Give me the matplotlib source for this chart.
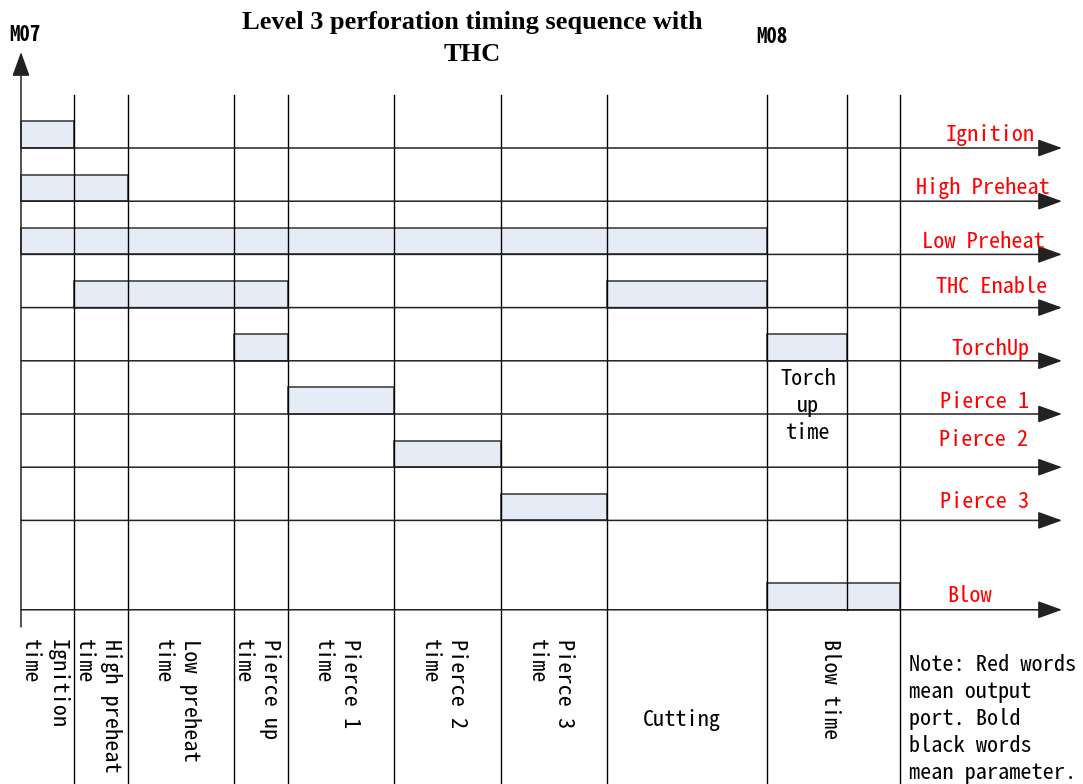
import matplotlib.pyplot as plt
from matplotlib.patches import Rectangle

# phase boundaries on the time axis (1 unit = one short phase)
edges = [0, 1, 2, 4, 5, 7, 9, 11, 14, 15.5, 16.5]

# output ports, top to bottom
signals = ["Ignition", "High Preheat", "Low Preheat", "THC Enable", "TorchUp",
           "Pierce 1", "Pierce 2", "Pierce 3", "Blow"]
# spans where each port is on, as (start edge, end edge) indices
on_spans = [
    [(0, 1)],
    [(0, 2)],
    [(0, 8)],
    [(1, 4), (7, 8)],
    [(3, 4), (8, 9)],
    [(4, 5)],
    [(5, 6)],
    [(6, 7)],
    [(8, 10)],
]

# parameters written under the time axis, with their edge spans
phase_labels = ["Ignition\ntime", "High preheat\ntime", "Low preheat\ntime",
                "Pierce up\ntime", "Pierce 1\ntime", "Pierce 2\ntime",
                "Pierce 3\ntime", "Cutting", "Blow time"]
phase_spans = [(0, 1), (1, 2), (2, 3), (3, 4), (4, 5), (5, 6), (6, 7), (7, 8), (8, 10)]
vertical_phase = [True, True, True, True, True, True, True, False, True]

title = "Level 3 perforation timing sequence with\nTHC"
note = "Note: Red words\nmean output\nport. Bold\nblack words\nmean parameter."

# layout (pixels of the 1083x784 picture)
W, H = 1083, 784
X0, XUNIT = 21, 53.3        # pixel of t=0 and pixels per time unit
Y0, YUNIT = 148, 53.2       # pixel of first baseline and pixels per row
row_y = [0, 1, 2, 3, 4, 5, 6, 7, 8.68]
label_px = [(990, 135), (983, 188), (983, 242), (992, 287), (990, 349),
            (985, 402), (984, 440), (985, 502), (970, 596)]

MONO = ["Noto Sans Mono CJK SC", "Liberation Mono"]
FS = 16


def tx(px):
    return (px - X0) / XUNIT


def ry(py):
    return (py - Y0) / YUNIT


fig = plt.figure(figsize=(W / 100, H / 100), dpi=100)
ax = fig.add_axes([0, 0, 1, 1])
ax.set_xlim(tx(0), tx(W))
ax.set_ylim(ry(H), ry(0))
ax.axis("off")

head = dict(arrowstyle="-|>,head_length=0.75,head_width=0.27", mutation_scale=20,
            color="#222222", lw=1.1, shrinkA=0, shrinkB=0)

# on boxes
for row, spans in zip(row_y, on_spans):
    for a, b in spans:
        ax.add_patch(Rectangle((edges[a], row - 0.5), edges[b] - edges[a], 0.5,
                               facecolor="#E5ECF6", edgecolor="#333333", lw=1.1, zorder=1))

# baselines with arrows
for row in row_y:
    ax.annotate("", xy=(tx(1062), row), xytext=(0, row), arrowprops=head, zorder=3)

# phase boundaries
for i, t in enumerate(edges[1:], start=1):
    bottom = row_y[-1] if i == 9 else ry(H)
    ax.plot([t, t], [ry(95), bottom], color="black", lw=1.0, zorder=2)

# time axis
ax.annotate("", xy=(0, ry(52)), xytext=(0, ry(627)), arrowprops=head, zorder=3)

# port names
for name, (px, py) in zip(signals, label_px):
    ax.text(tx(px), ry(py), name, color="#FF0000", fontsize=FS, family=MONO,
            ha="center", va="center")

# parameter names under the axis
for lab, (a, b), vert in zip(phase_labels, phase_spans, vertical_phase):
    xc = (edges[a] + edges[b]) / 2
    if vert:
        ax.text(xc - 4 / XUNIT, ry(639), lab, rotation=270, fontsize=FS, family=MONO,
                ha="center", va="top", multialignment="left", linespacing=1.3)
    else:
        ax.text(xc - 5 / XUNIT, ry(720), lab, fontsize=FS, family=MONO,
                ha="center", va="center")

ax.text(tx(808), ry(406), "Torch\nup\ntime", fontsize=FS, family=MONO,
        ha="center", va="center", linespacing=1.32)
ax.text(tx(909), ry(654), note, fontsize=FS, family=MONO,
        ha="left", va="top", linespacing=1.29)

ax.text(tx(25), ry(35), "M07", fontsize=15, family=MONO,
        fontweight="bold", ha="center", va="center")
ax.text(tx(772), ry(37), "M08", fontsize=15, family=MONO,
        fontweight="bold", ha="center", va="center")
ax.text(tx(472), ry(11), title, fontsize=19, family="Liberation Serif",
        fontweight="bold", ha="center", va="top", linespacing=1.5)

fig.savefig("out.png", dpi=100)
